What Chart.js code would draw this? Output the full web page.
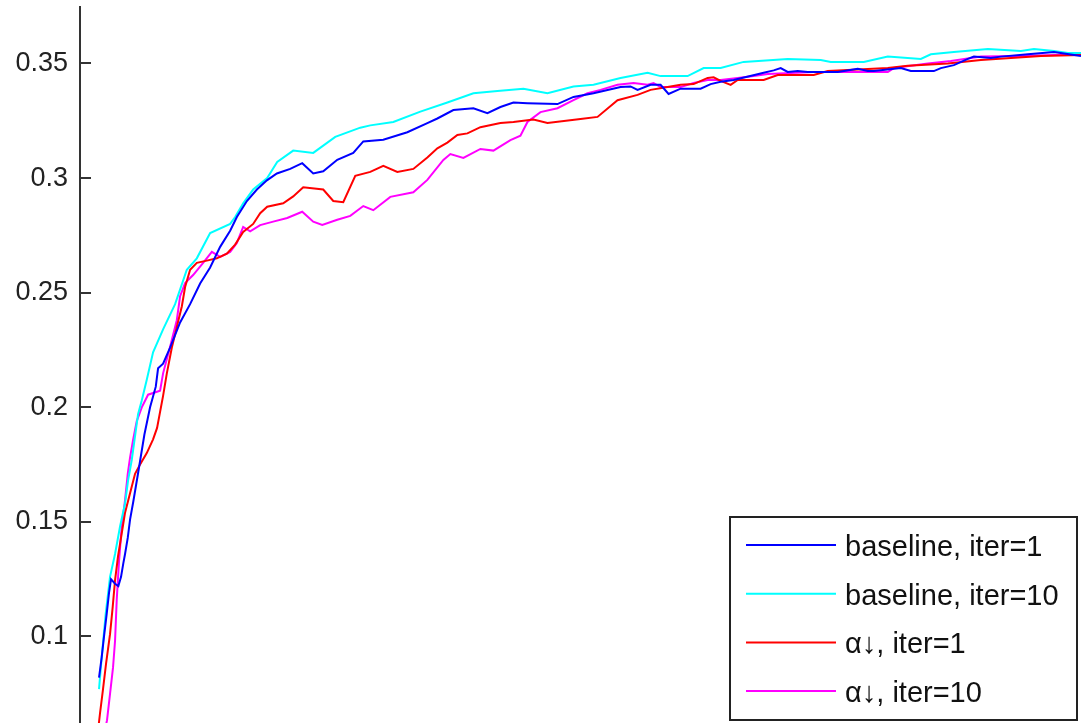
<!DOCTYPE html>
<html>
<head>
<meta charset="utf-8">
<title>baseline vs alpha</title>
<script src="https://cdn.jsdelivr.net/npm/chart.js@4.4.0/dist/chart.umd.min.js"></script>
<style>
  body { margin: 0; background: #fff; }
  #wrap { width: 1081px; height: 723px; position: relative; }
</style>
</head>
<body>
<div id="wrap"><canvas id="chart"></canvas></div>
<script>
// values (x = position along the run, y = score)
const blueX = [19,21.7,24,26.7,29,31,35,38.3,41,43.3,45,47.7,50,53.3,58.3,64.3,70,75.7,78,83,90,100,110,120,130,140,150,156.7,166.7,176.7,186.7,196.7,210,222,233,243,257,273,283,303,327,347,357,373,393,407,420,433,447,477,493,513,540,550,557,570,580,588,600,620,630,640,653,683,693,700,707,717,727,757,777,787,793,820,830,853,860,873,887,893,910,920,947,973,1000];
const blueY = [.082,.091,.100,.110,.119,.125,.123,.122,.126,.132,.136,.143,.151,.159,.172,.188,.200,.209,.217,.219,.226,.237,.245,.254,.261,.270,.277,.283,.290,.295,.299,.302,.304,.3065,.302,.303,.308,.311,.316,.3167,.320,.324,.326,.3297,.3305,.3283,.331,.333,.3327,.3323,.3354,.337,.3397,.340,.3385,.3407,.3407,.3367,.339,.339,.341,.342,.3428,.346,.347,.348,.3463,.3467,.3463,.3463,.3477,.3467,.3467,.348,.3467,.3467,.348,.3493,.352,.353,.3524,.353,.354,.355,.3533];

const cyanX = [19,21.7,25.7,30,35,40,45,48,51.7,58,61.7,66.7,73,83,95,106.7,116.7,130,150,155,163,173,187,197,213,233,255,280,290,313,340,367,393,417,443,467,493,513,540,567,580,607,623,640,663,707,740,750,783,807,840,850,873,907,940,953,973,987,1000];
const cyanY = [.077,.091,.110,.126,.136,.148,.158,.168,.177,.197,.203,.212,.224,.234,.245,.260,.265,.276,.280,.283,.289,.295,.300,.307,.312,.311,.318,.322,.323,.3245,.329,.333,.337,.338,.339,.337,.340,.3407,.3437,.346,.3445,.3445,.348,.348,.3507,.352,.3515,.3507,.3507,.353,.352,.354,.355,.3563,.3555,.3563,.3555,.3546,.3546];

const redX = [17,20,23,26,30,32.7,35,38,41.7,45,50,55,60,66.7,73,77,80,83,86.7,91.7,96.7,101.7,105,110,116.7,126.7,136.7,146.7,155,163,173,180,187,203,213,223,243,253,263,275,290,303,317,333,347,357,367,377,387,400,420,433,453,467,500,517,537,557,570,587,600,613,627,633,640,650,657,683,697,733,747,807,827,867,900,960,1000];
const redY = [.055,.0665,.077,.088,.101,.113,.1245,.135,.145,.154,.1625,.171,.175,.180,.186,.191,.198,.205,.2147,.226,.235,.244,.2525,.260,.263,.264,.265,.267,.271,.2765,.280,.2847,.2875,.289,.292,.296,.295,.290,.2895,.301,.3027,.3053,.3027,.304,.309,.313,.3155,.3188,.3195,.3222,.324,.3245,.3256,.324,.3258,.3267,.334,.3363,.3385,.3397,.3407,.341,.3437,.344,.3424,.3407,.3428,.3428,.345,.345,.3467,.348,.349,.350,.3515,.3533,.3537];

const magX = [23,27,30,33,35,36.7,39,41.7,45,47.7,50,53,56.7,61.7,68,80,83,90,96.7,100,105,113,123,131.7,140,150,156.7,163,170,180,193,207,222,233,242,257,270,283,293,310,333,347,363,370,383,400,413,430,440,447,460,477,493,507,520,537,553,567,573,580,600,613,627,640,657,673,687,733,807,813,847,870,900,940,1000];
const magY = [.055,.0635,.075,.0865,.098,.116,.133,.148,.1595,.171,.178,.1856,.194,.200,.2055,.2072,.2148,.2264,.238,.2485,.2542,.2577,.263,.2678,.2656,.2678,.2717,.2787,.2768,.2795,.281,.2826,.2853,.281,.2796,.2818,.2835,.2878,.286,.2918,.2938,.2992,.3079,.3105,.3088,.3127,.312,.3166,.3185,.3245,.3288,.3305,.334,.337,.3385,.3407,.3415,.3407,.3415,.3397,.3397,.3415,.3428,.3428,.3437,.3445,.3454,.3463,.3463,.348,.350,.3511,.353,.3533,.354];

const seriesLabels = ['baseline, iter=1', 'baseline, iter=10', 'α↓, iter=1', 'α↓, iter=10'];
const seriesColors = ['#0000ff', '#00ffff', '#ff0000', '#ff00ff'];
const yTickValues = [0.1, 0.15, 0.2, 0.25, 0.3, 0.35];

const FONT = '"Liberation Sans", Arial, sans-serif';

function toPoints(xs, ys) {
    return xs.map((x, i) => ({ x: x, y: ys[i] }));
}

// ticks pointing into the plot, MATLAB style
const innerTicks = {
    id: 'innerTicks',
    afterDatasetsDraw(chart) {
        const ctx = chart.ctx;
        const y = chart.scales.y;
        const left = chart.chartArea.left;
        ctx.save();
        ctx.strokeStyle = '#333';
        ctx.lineWidth = 2;
        yTickValues.forEach(v => {
            const py = Math.round(y.getPixelForValue(v));
            ctx.beginPath();
            ctx.moveTo(left, py);
            ctx.lineTo(left + 11, py);
            ctx.stroke();
        });
        // axis line a bit heavier than the default border
        ctx.beginPath();
        ctx.moveTo(left, chart.chartArea.top);
        ctx.lineTo(left, chart.chartArea.bottom);
        ctx.stroke();
        ctx.restore();
    }
};

// boxed legend in the lower right corner
const boxLegend = {
    id: 'boxLegend',
    afterDraw(chart) {
        const ctx = chart.ctx;
        const area = chart.chartArea;
        const w = 347, h = 203;
        const x0 = area.right - 4 - w;
        const y0 = area.bottom - 3 - h;
        ctx.save();
        ctx.fillStyle = '#fff';
        ctx.fillRect(x0, y0, w, h);
        ctx.strokeStyle = '#222';
        ctx.lineWidth = 2;
        ctx.strokeRect(x0, y0, w, h);
        ctx.font = '29px ' + FONT;
        ctx.textBaseline = 'middle';
        ctx.fillStyle = '#111';
        chart.data.datasets.forEach((ds, i) => {
            const ly = y0 + 28 + i * 48.7;
            ctx.strokeStyle = ds.borderColor;
            ctx.lineWidth = 2;
            ctx.beginPath();
            ctx.moveTo(x0 + 16, ly);
            ctx.lineTo(x0 + 106, ly);
            ctx.stroke();
            ctx.fillText(ds.label, x0 + 115, ly + 3);
        });
        ctx.restore();
    }
};

const allX = [blueX, cyanX, redX, magX];
const allY = [blueY, cyanY, redY, magY];

const datasets = seriesLabels.map((label, i) => ({
    label: label,
    data: toPoints(allX[i], allY[i]),
    borderColor: seriesColors[i],
    backgroundColor: seriesColors[i],
    borderWidth: 2,
    pointRadius: 0,
    tension: 0,
    fill: false
}));

new Chart(document.getElementById('chart'), {
    type: 'line',
    data: { datasets: datasets },
    plugins: [innerTicks, boxLegend],
    options: {
        responsive: true,
        maintainAspectRatio: false,
        animation: false,
        layout: { padding: { top: 7, left: 0, right: 0, bottom: 0 } },
        plugins: {
            legend: { display: false },
            tooltip: { enabled: false }
        },
        scales: {
            x: {
                type: 'linear',
                min: 0,
                max: 1000,
                display: false
            },
            y: {
                min: 0.06225,
                max: 0.37465,
                afterFit(scale) {
                    scale.width = 80;
                    scale.paddingTop = 0;
                    scale.paddingBottom = 0;
                },
                afterBuildTicks(scale) {
                    scale.ticks = yTickValues.map(v => ({ value: v }));
                },
                grid: { display: false, drawTicks: false },
                border: { display: true, color: '#333', width: 2 },
                ticks: {
                    padding: 12,
                    color: '#222',
                    font: { family: FONT, size: 27 },
                    callback: v => String(+v.toFixed(2))
                }
            }
        }
    }
});
</script>
</body>
</html>
